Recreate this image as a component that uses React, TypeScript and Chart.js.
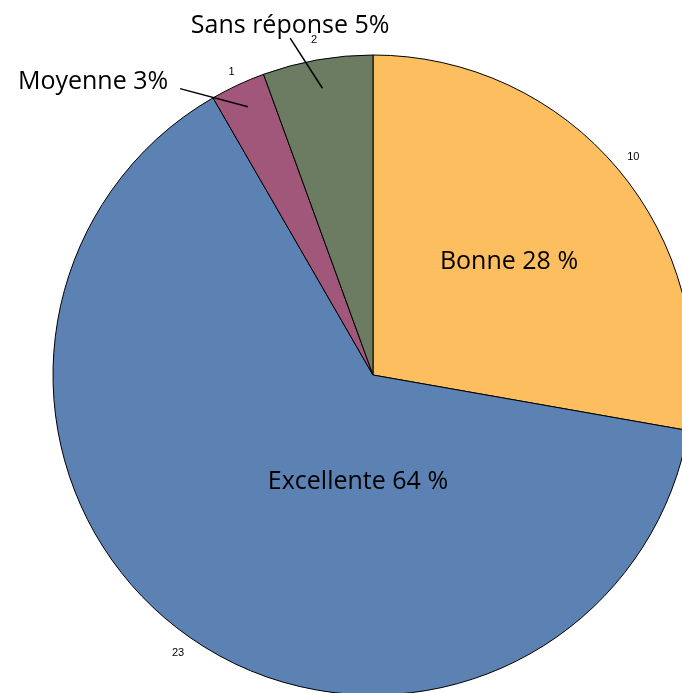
import React, { useEffect, useRef } from "react";
import { Chart, registerables } from "chart.js";

Chart.register(...registerables);

const categories = ["Bonne", "Excellente", "Moyenne", "Sans réponse"];
const counts = [10, 23, 1, 2];
const bigLabels = ["Bonne 28 %", "Excellente 64 %", "Moyenne 3%", "Sans réponse 5%"];
const colors = ["#FDBE5F", "#5C81B3", "#A1577A", "#6B7C63"];

// label placement relative to pie center, in units of radius (style only)
const bigLabelPos = [
  { x: 0.425, y: -0.355, align: "center" },
  { x: -0.047, y: 0.335, align: "center" },
  { x: -0.64, y: -0.915, align: "right" },
  { x: -0.259, y: -1.09, align: "center" },
];
// leader line start points (relative to center, in radius units); null = no line
const leaderStart: ({ x: number; y: number } | null)[] = [
  null,
  null,
  { x: -0.603, y: -0.895 },
  { x: -0.259, y: -1.053 },
];

const labelPlugin = {
  id: "pieLabels",
  afterDatasetsDraw(chart: any) {
    const ctx = chart.ctx;
    const meta = chart.getDatasetMeta(0);
    ctx.save();
    meta.data.forEach((arc: any, i: number) => {
      const { x: cx, y: cy, outerRadius: R, startAngle, endAngle } = arc.getProps(
        ["x", "y", "outerRadius", "startAngle", "endAngle"],
        true
      );
      const mid = (startAngle + endAngle) / 2;
      ctx.fillStyle = "#000";
      ctx.font = "11px 'Liberation Sans', Arial, sans-serif";
      ctx.textAlign = "center";
      ctx.textBaseline = "middle";
      const vr = R * (i === 2 ? 1.045 : 1.062);
      ctx.fillText(String(counts[i]), cx + Math.cos(mid) * vr, cy + Math.sin(mid) * vr);
      const ls = leaderStart[i];
      if (ls) {
        const er = R * (i === 3 ? 0.91 : 0.925);
        ctx.strokeStyle = "#000";
        ctx.lineWidth = 1.5;
        ctx.beginPath();
        ctx.moveTo(cx + ls.x * R, cy + ls.y * R);
        ctx.lineTo(cx + Math.cos(mid) * er, cy + Math.sin(mid) * er);
        ctx.stroke();
      }
    });
    meta.data.forEach((arc: any, i: number) => {
      const { x: cx, y: cy, outerRadius: R } = arc.getProps(["x", "y", "outerRadius"], true);
      const p = bigLabelPos[i];
      ctx.fillStyle = "#000";
      ctx.font = "25px 'Open Sans', sans-serif";
      ctx.textAlign = p.align;
      ctx.textBaseline = "middle";
      ctx.fillText(bigLabels[i], cx + p.x * R, cy + p.y * R);
    });
    ctx.restore();
  },
};

export default function App() {
  const ref = useRef<HTMLCanvasElement | null>(null);
  useEffect(() => {
    if (!ref.current) return;
    const chart = new Chart(ref.current, {
      type: "pie",
      data: {
        labels: categories,
        datasets: [
          {
            data: counts,
            backgroundColor: colors,
            borderColor: "#000",
            borderWidth: 1,
            hoverOffset: 0,
          },
        ],
      },
      options: {
        animation: false,
        responsive: false,
        radius: 320,
        layout: { padding: { left: 53, right: 53, top: 55, bottom: 55 } },
        plugins: { legend: { display: false }, tooltip: { enabled: false } },
      } as any,
      plugins: [labelPlugin],
    });
    return () => chart.destroy();
  }, []);
  return (
    <div
      style={{
        position: "fixed",
        left: 0,
        top: 0,
        width: 682,
        height: 693,
        overflow: "hidden",
        background: "#fff",
      }}
    >
      <canvas ref={ref} width={746} height={750} style={{ display: "block" }} />
    </div>
  );
}
